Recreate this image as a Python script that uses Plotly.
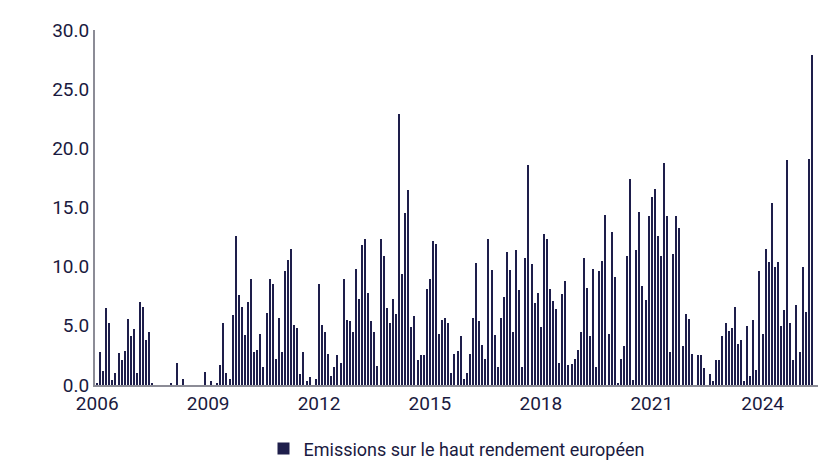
import pandas as pd
import plotly.graph_objects as go

START = "2006-01-01"
VALUES = [
    0.2, 2.8, 1.2, 6.5, 5.2, 0.4, 1.0, 2.7, 2.1, 2.9, 5.6, 4.1,
    4.7, 1.0, 7.0, 6.6, 3.8, 4.5, 0.2, 0, 0, 0, 0, 0,
    0.2, 0, 1.9, 0, 0.5, 0, 0, 0, 0, 0, 0, 1.1,
    0, 0.3, 0, 0.2, 1.7, 5.2, 1.0, 0.5, 5.9, 12.6, 7.6, 6.6,
    4.2, 7.0, 9.0, 2.8, 3.0, 4.3, 1.5, 6.1, 9.0, 8.5, 2.2, 5.7,
    2.8, 9.6, 10.6, 11.5, 5.1, 4.8, 0.9, 2.8, 0.3, 0.7, 0, 0.5,
    8.5, 5.1, 4.5, 2.6, 0.8, 1.5, 2.5, 1.9, 9.0, 5.5, 5.4, 4.5,
    9.8, 7.3, 11.8, 12.3, 7.8, 5.4, 4.5, 1.6, 12.3, 10.9, 6.5, 5.2,
    7.3, 6.0, 22.9, 9.4, 14.5, 16.5, 4.9, 5.8, 2.1, 2.5, 2.5, 8.1,
    9.0, 12.2, 11.9, 4.3, 5.5, 5.7, 5.2, 1.0, 2.6, 2.9, 4.1, 0.5,
    1.0, 2.6, 5.7, 10.3, 5.4, 3.4, 2.2, 12.3, 9.7, 4.2, 1.5, 5.7,
    7.4, 11.2, 9.7, 4.5, 11.4, 8.0, 1.5, 10.7, 18.6, 10.2, 6.9, 7.8,
    4.9, 12.8, 12.3, 8.1, 7.1, 6.4, 1.9, 7.7, 8.8, 1.7, 1.8, 2.2,
    3.0, 4.5, 10.7, 8.2, 4.1, 9.8, 1.5, 9.6, 10.5, 14.4, 4.3, 12.9,
    9.1, 0.2, 2.2, 3.3, 10.9, 17.4, 0.4, 11.4, 14.6, 8.4, 7.2, 14.3,
    15.9, 16.6, 12.6, 10.9, 18.8, 14.3, 2.8, 11.1, 14.3, 13.3, 3.3, 6.0,
    5.6, 2.6, 0, 2.5, 2.5, 1.4, 0, 0.9, 0.3, 2.1, 2.1, 4.1,
    5.2, 4.6, 4.8, 6.6, 3.5, 3.8, 0.3, 5.0, 0.8, 5.5, 1.3, 9.6,
    4.3, 11.5, 10.4, 15.4, 10.0, 10.4, 5.0, 6.3, 19.0, 5.2, 2.1, 6.8,
    2.8, 10.0, 6.2, 19.1, 27.9,
]
DATES = pd.date_range(START, periods=len(VALUES), freq="MS")
SERIES = "Emissions sur le haut rendement européen"
NAVY = "#1e1e4b"
AXIS = "#8c8c96"

fig = go.Figure(go.Bar(x=DATES, y=VALUES, name=SERIES, marker_color=NAVY,
                       marker_line_width=0, width=1000 * 3600 * 24 * 11))

fig.update_layout(
    width=840, height=468,
    margin=dict(l=87, r=30, t=22, b=91, autoexpand=False),
    plot_bgcolor="white", paper_bgcolor="white",
    font=dict(family="Roboto", size=19, color="#1a1a40"),
    showlegend=True,
    legend=dict(orientation="h", x=0.5, xanchor="center", y=-0.18,
                yanchor="middle", font=dict(size=18)),
    bargap=0,
)
fig.update_xaxes(type="date", range=["2005-12-10", "2025-07-01"],
                 tickvals=pd.date_range("2006-01-01", "2024-01-01",
                                        freq="36MS"),
                 tickformat="%Y", showline=True, linecolor=AXIS,
                 linewidth=2, ticks="", showgrid=False)
fig.update_yaxes(range=[0, 30], dtick=5, tickformat=".1f", showline=True,
                 linecolor=AXIS, linewidth=2, showgrid=False,
                 zeroline=False, ticks="")

fig.write_html("out.html")
